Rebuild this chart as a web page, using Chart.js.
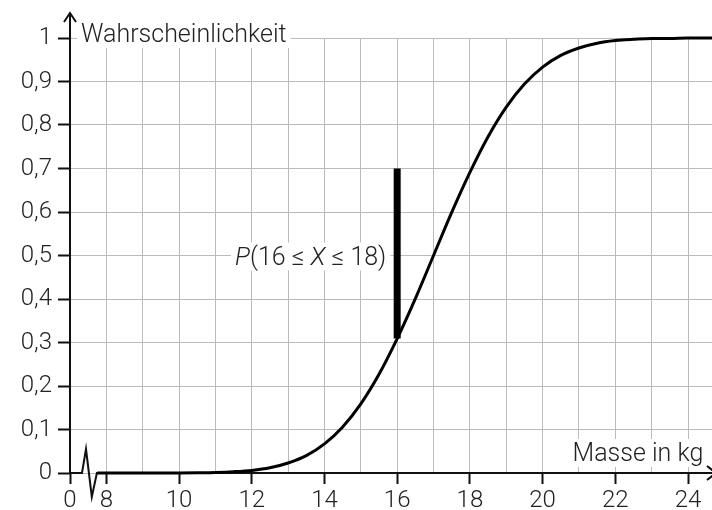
<!DOCTYPE html>
<html>
<head>
<meta charset="utf-8">
<script src="https://cdn.jsdelivr.net/npm/chart.js@4"></script>
<style>
  html, body { margin: 0; padding: 0; background: #fff; }
</style>
</head>
<body>
<canvas id="chart" width="712" height="510"></canvas>
<script>
// curve (Masse in kg -> Wahrscheinlichkeit)
const masse = [7.75, 8, 8.5, 9, 9.5, 10, 10.5, 11, 11.5, 12, 12.5, 13, 13.5, 14, 14.5, 15, 15.5, 16,
  16.5, 17, 17.5, 18, 18.5, 19, 19.5, 20, 20.5, 21, 21.5, 22, 22.5, 23, 23.5, 24, 24.5, 25];
const wahrsch = [0, 0, 0, 0, 0, 0.0002, 0.0006, 0.0013, 0.003, 0.006, 0.012, 0.023, 0.04, 0.067, 0.106, 0.159, 0.227, 0.309,
  0.401, 0.5, 0.599, 0.691, 0.773, 0.841, 0.894, 0.933, 0.96, 0.977, 0.988, 0.994, 0.997, 0.999, 0.999, 1, 1, 1];

// thick bar at x = 16
const barMasse = [16, 16];
const barWahrsch = [0.309, 0.70];

// axes ("0" sits one unit left of 8 because of the axis break)
const xTickValues = [7, 8, 9, 10, 11, 12, 13, 14, 15, 16, 17, 18, 19, 20, 21, 22, 23, 24];
const xTickLabels = ['0', '8', '', '10', '', '12', '', '14', '', '16', '', '18', '', '20', '', '22', '', '24'];
const yTickValues = [0, 0.1, 0.2, 0.3, 0.4, 0.5, 0.6, 0.7, 0.8, 0.9, 1];
const yTickLabels = ['0', '0,1', '0,2', '0,3', '0,4', '0,5', '0,6', '0,7', '0,8', '0,9', '1'];
const axisBreak = [[7, 0], [7.33, 0], [7.44, 0.055], [7.6, -0.055], [7.74, 0]];

const FONT = 'Roboto';
const TXT = '#222';
const font = (size, style) => (style || '') + ' 300 ' + size + 'px ' + FONT;

function drawRich(ctx, parts, x, y, align) {
  let w = 0;
  parts.forEach(p => { ctx.font = font(25, p[1] ? 'italic' : ''); w += ctx.measureText(p[0]).width; });
  let cx = align === 'right' ? x - w : x;
  const start = cx;
  ctx.fillStyle = '#fff';
  ctx.fillRect(start - 4, y - 22, w + 8, 28);
  ctx.fillStyle = TXT;
  ctx.textAlign = 'left';
  ctx.textBaseline = 'alphabetic';
  parts.forEach(p => {
    ctx.font = font(25, p[1] ? 'italic' : '');
    ctx.fillText(p[0], cx, y);
    cx += ctx.measureText(p[0]).width;
  });
}

const decor = {
  id: 'decor',
  beforeDatasetsDraw(chart) {
    const { ctx, scales: { x, y } } = chart;
    ctx.save();
    // labels with white background
    drawRich(ctx, [['Wahrscheinlichkeit', false]], x.getPixelForValue(7) + 11, y.getPixelForValue(1) + 4, 'left');
    drawRich(ctx, [['P', true], ['(16 ≤ ', false], ['X', true], [' ≤ 18)', false]],
      x.getPixelForValue(15.7), y.getPixelForValue(0.5) + 9, 'right');
    drawRich(ctx, [['Masse in kg', false]], x.getPixelForValue(24.42), y.getPixelForValue(0.03) + 1, 'right');

    // axes
    ctx.strokeStyle = '#111';
    ctx.lineWidth = 2;
    ctx.lineJoin = 'miter';
    const x0 = x.getPixelForValue(7);
    const y0 = y.getPixelForValue(0);
    ctx.beginPath();
    ctx.moveTo(x0, y0 + 1);
    ctx.lineTo(x0, 13);
    ctx.moveTo(x0 - 6, 22);
    ctx.lineTo(x0, 13);
    ctx.lineTo(x0 + 6, 22);
    ctx.stroke();

    ctx.beginPath();
    axisBreak.forEach((p, i) => {
      const px = x.getPixelForValue(p[0]), py = y.getPixelForValue(p[1]);
      if (i === 0) ctx.moveTo(px, py); else ctx.lineTo(px, py);
    });
    ctx.lineTo(chart.width + 4, y0);
    ctx.stroke();
    ctx.beginPath();
    ctx.moveTo(chart.width - 5, y0 - 7);
    ctx.lineTo(chart.width + 4, y0);
    ctx.lineTo(chart.width - 5, y0 + 7);
    ctx.stroke();
    ctx.restore();
  }
};

new Chart('chart', {
  type: 'line',
  data: {
    datasets: [
      {
        data: masse.map((m, i) => ({ x: m, y: wahrsch[i] })),
        borderColor: '#000',
        borderWidth: 3,
        pointRadius: 0,
        cubicInterpolationMode: 'monotone',
        clip: 6
      },
      {
        data: barMasse.map((m, i) => ({ x: m, y: barWahrsch[i] })),
        borderColor: '#000',
        borderWidth: 7,
        borderCapStyle: 'butt',
        pointRadius: 0
      }
    ]
  },
  options: {
    responsive: false,
    animation: false,
    events: [],
    layout: { padding: { top: 38, right: 0, left: 0, bottom: 0 } },
    plugins: { legend: { display: false }, tooltip: { enabled: false } },
    scales: {
      x: {
        type: 'linear',
        min: 7,
        max: 24.66,
        afterBuildTicks: s => { s.ticks = xTickValues.map(v => ({ value: v })); },
        afterFit: s => { s.height = 37; },
        border: { display: false },
        grid: {
          color: c => (c.tick && c.tick.value === 7) ? 'rgba(0,0,0,0)' : '#bbbbbb',
          lineWidth: 1,
          tickLength: 11,
          tickWidth: 2,
          tickColor: c => xTickLabels[c.index] ? '#111' : 'rgba(0,0,0,0)'
        },
        ticks: {
          autoSkip: false,
          maxRotation: 0,
          padding: 3,
          color: TXT,
          font: { family: FONT, size: 24, weight: '300' },
          callback: (v, i) => xTickLabels[i]
        }
      },
      y: {
        min: 0,
        max: 1,
        afterBuildTicks: s => { s.ticks = yTickValues.map(v => ({ value: v })); },
        afterFit: s => { s.width = 70; },
        border: { display: false },
        grid: {
          color: '#bbbbbb',
          lineWidth: 1,
          tickLength: 12,
          tickWidth: 2,
          tickColor: '#111'
        },
        ticks: {
          padding: 6,
          color: TXT,
          font: { family: FONT, size: 24, weight: '300' },
          callback: (v, i) => yTickLabels[i]
        }
      }
    }
  },
  plugins: [decor]
});
</script>
</body>
</html>
